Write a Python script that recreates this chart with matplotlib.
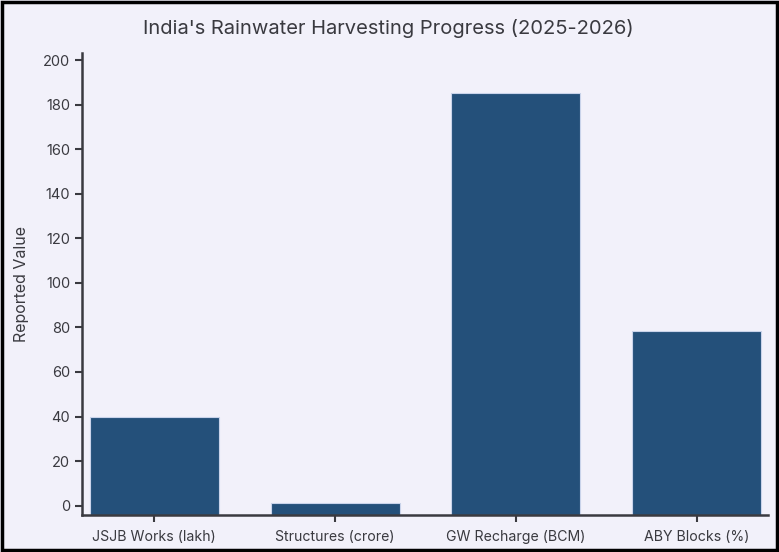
import numpy as np
import matplotlib
matplotlib.use('Agg')
import matplotlib.pyplot as plt

categories = ["JSJB Works (lakh)", "Structures (crore)", "GW Recharge (BCM)", "ABY Blocks (%)"]
values = [39.6, 1.0, 185.0, 78.4]
yticks = [0, 20, 40, 60, 80, 100, 120, 140, 160, 180, 200]

plt.rcParams['font.family'] = ['Inter', 'DejaVu Sans']
bg = '#f2f1fa'
txt = '#3a3a40'
ymin, ymax = -4.2, 203.3

fig = plt.figure(figsize=(7.79, 5.52), dpi=100, facecolor=bg)
ax = fig.add_axes([82/779, 1 - 515/552, (768-82)/779, (515-52.7)/552])
ax.set_facecolor(bg)

x = np.arange(len(categories))
# bars run down to the axis line, as in the reference
ax.bar(x, np.array(values) - ymin, bottom=ymin, width=0.714,
       color='#24507a', edgecolor='#c9d3ea', linewidth=0.8)

ax.set_xlim(-0.4, 3.395)
ax.set_ylim(ymin, ymax)
ax.set_xticks(x)
ax.set_xticklabels(categories, fontsize=10.2, color=txt)
ax.set_yticks(yticks)
ax.tick_params(axis='y', labelsize=10.5, colors=txt, length=5, width=1.5)
ax.tick_params(axis='x', colors=txt, length=5, width=1.5, pad=6)
for lab in ax.get_xticklabels():
    lab.set_color(txt)
for lab in ax.get_yticklabels():
    lab.set_color(txt)

for s in ['top', 'right']:
    ax.spines[s].set_visible(False)
for s in ['left', 'bottom']:
    ax.spines[s].set_color('#3a3a40')
    ax.spines[s].set_linewidth(1.8)

ax.set_ylabel("Reported Value", fontsize=11.5, color=txt, labelpad=10)
fig.text(388/779, 1 - 28/552, "India's Rainwater Harvesting Progress (2025-2026)",
         ha='center', va='center', fontsize=14.5, color=txt)

# frame round the figure
fig.patches.append(plt.Rectangle((0.002, 0.003), 0.996, 0.994, transform=fig.transFigure,
                                 fill=False, edgecolor='black', linewidth=2.5))

fig.savefig('out.png', dpi=100, facecolor=bg)
